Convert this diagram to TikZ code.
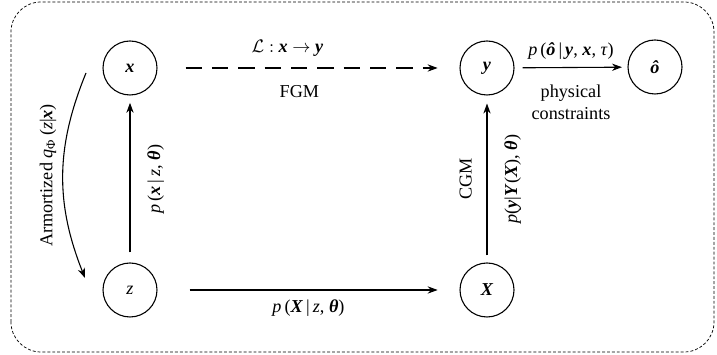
\documentclass[tikz,border=0pt]{standalone}
\usepackage{amsmath}
\usepackage{fontspec}
\setmainfont{Liberation Serif}
\usetikzlibrary{arrows.meta,positioning}
\newcommand{\bv}[1]{\textbf{\textit{#1}}}
\newcommand{\iv}[1]{\textit{#1}}

\begin{document}
\begin{tikzpicture}[x=0.55pt,y=0.55pt,
  var/.style={circle,draw,line width=0.6pt,minimum size=29.7pt,inner sep=0pt},
  link/.style={line width=0.6pt,-{Stealth[length=5.5pt,width=4pt]}}]
\useasboundingbox (0,0) rectangle (717,355);
% frame
\draw[line width=0.4pt,dash pattern=on 1.6pt off 1.1pt,rounded corners=16.5pt] (11,3) rectangle (714,353);

% variables
\node[var] (x) at (130,287) {\bv{x}};
\node[var] (y) at (487,287) {\bv{y}};
\node[var] (o) at (655,288) {\bv{ô}};
\node[var] (z) at (130,65) {\iv{z}};
\node[var] (X) at (487,65) {\bv{X}};
\coordinate (qs) at ([shift={(-44,-5)}]x.center);
\coordinate (qe) at ([shift={(-45,12)}]z.center);

\draw[link,dash pattern=on 9pt off 5.5pt,shorten <=15.4pt,shorten >=12pt] (x) -- (y)
  node[above=2.5pt,pos=0.43] {$\mathcal{L}:$ \bv{x} $\to$ \bv{y}}
  node[below=6pt,pos=0.47] {FGM};
\draw[link,shorten <=4.4pt,shorten >=3pt] (y) -- (o)
  node[above=1pt,midway] {\iv{p}\,(\bv{ô}\,|\,\bv{y}, \bv{x}, \iv{τ})}
  node[below=6pt,midway,align=center] {physical\\constraints};
\draw[link,shorten <=5.5pt,shorten >=4pt] (z) -- (x)
  node[midway,sloped,below=6pt] {\iv{p}\,(\bv{x}\,|\,\iv{z}, \bv{θ})};
\draw[link,shorten <=3.9pt,shorten >=4.4pt] (X) -- (y)
  node[midway,sloped,above=4.7pt] {CGM}
  node[midway,sloped,below=6pt] {\iv{p}(\bv{y}|\bv{Y}(\bv{X}), \bv{θ})};
\draw[link,shorten <=17.6pt,shorten >=12pt] (z) -- (X)
  node[below=2pt,midway] {\iv{p}\,(\bv{X}\,|\,\iv{z}, \bv{θ})};
\draw[link] (qs) to[bend right=22]
  node[midway,rotate=90,anchor=south] {Armortized \iv{q}\textsubscript{Φ}\,(\iv{z}|\bv{x})} (qe);
\end{tikzpicture}
\end{document}
